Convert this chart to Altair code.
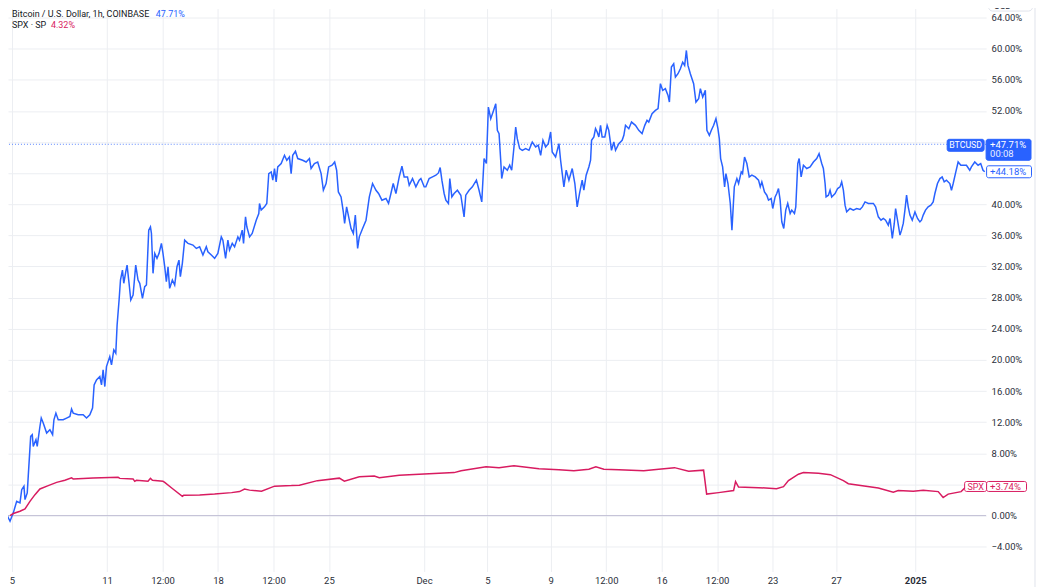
import altair as alt
import pandas as pd

# ---------------- data ----------------
# hours after 2024-11-05 00:00 and % change, BTCUSD (Coinbase, 1h)
btc_hours = [
    -8.0, -3.0, 2.0, 7.1, 12.1, 14.7, 18.1, 19.7, 23.1, 24.6,
    28.3, 30.7, 32.2, 36.3, 38.2, 42.3, 44.3, 47.3, 52.5, 57.4,
    61.5, 63.5, 66.5, 70.0, 77.5, 82.7, 87.7, 90.2, 92.7, 100.2,
    107.8, 112.9, 117.9, 122.0, 124.4, 128.0, 133.0, 135.6, 138.0, 140.6,
    143.1, 148.1, 150.7, 154.2, 157.2, 159.2, 162.2, 164.3, 167.3, 169.3,
    172.3, 174.3, 177.3, 179.9, 183.4, 187.4, 190.9, 193.5, 197.6, 201.0,
    203.6, 207.1, 209.7, 211.2, 213.6, 216.2, 219.6, 222.7, 226.3, 228.7,
    231.3, 233.8, 236.3, 238.8, 242.9, 246.4, 249.9, 252.9, 255.0, 258.0,
    261.5, 266.5, 274.1, 279.2, 284.2, 289.2, 294.3, 296.7, 301.9, 306.9,
    311.8, 317.0, 319.4, 323.5, 327.0, 329.5, 333.6, 337.1, 342.1, 344.6,
    348.7, 350.7, 353.7, 355.7, 359.8, 363.8, 369.9, 373.8, 374.9, 377.4,
    382.4, 385.9, 388.9, 392.6, 395.0, 397.6, 400.1, 402.5, 407.7, 412.7,
    416.2, 420.2, 422.8, 425.2, 429.3, 432.8, 440.3, 445.5, 450.5, 453.0,
    458.0, 463.0, 468.2, 471.6, 475.7, 479.6, 484.8, 488.7, 491.7, 494.3,
    498.4, 501.8, 503.8, 506.8, 509.9, 513.5, 517.0, 520.0, 523.5, 526.0,
    531.0, 536.2, 541.2, 546.1, 551.3, 555.2, 560.3, 566.4, 570.3, 573.9,
    577.4, 581.5, 586.5, 590.6, 594.0, 599.0, 601.6, 606.6, 611.7, 616.7,
    619.3, 624.3, 626.8, 631.8, 636.9, 642.0, 645.9, 648.5, 651.1, 654.5,
    657.1, 661.0, 663.1, 666.2, 669.6, 674.6, 679.8, 684.7, 687.3, 692.3,
    697.3, 703.4, 707.4, 711.5, 715.0, 718.5, 721.5, 725.1, 728.6, 732.7,
    735.1, 737.7, 740.2, 741.7, 745.2, 750.2, 753.8, 756.8, 760.3, 762.9,
    765.3, 768.9, 772.9, 778.0, 783.0, 788.0, 793.1, 797.1, 800.7, 804.2,
    808.2, 812.2, 815.8, 818.2, 823.3, 828.4, 830.9, 833.4, 835.9, 839.4,
    843.5, 848.5, 852.5, 856.0, 859.6, 863.6, 866.1, 869.6, 873.7, 876.3,
    877.8, 881.3, 883.8, 886.3, 888.8, 891.4, 893.8, 897.9, 901.4, 903.9,
    908.0, 911.5, 914.1, 919.1, 924.1, 926.7, 929.2, 934.2, 938.3, 944.3,
    949.3, 954.3, 958.4, 961.8, 964.4, 969.4, 974.5, 978.5, 982.1, 985.6,
    989.6, 993.6, 995.7, 998.7, 1002.2, 1004.8, 1008.7, 1012.3, 1015.8, 1018.8,
    1021.4, 1023.8, 1027.4, 1032.4, 1035.9, 1040.0, 1042.6, 1046.1, 1050.1, 1052.5,
    1056.2, 1059.2, 1062.7, 1066.2, 1069.2, 1071.3, 1073.3, 1076.3, 1079.3, 1081.3,
    1084.4, 1087.9, 1090.4, 1094.0, 1097.9, 1100.5, 1104.5, 1106.5, 1109.5, 1113.0,
    1116.6, 1120.6, 1125.7, 1130.7, 1133.3, 1135.7, 1139.7, 1143.2, 1145.8, 1149.8,
    1152.2, 1155.8, 1158.3, 1160.9, 1163.4, 1165.9, 1168.9, 1171.9, 1174.9, 1178.6,
    1181.0, 1185.1, 1187.1, 1190.1, 1192.2, 1195.2, 1198.7, 1203.7, 1208.8, 1213.8,
    1218.8, 1222.4, 1226.4, 1228.9, 1231.5, 1233.0, 1236.5, 1239.0, 1241.5, 1246.6,
    1250.5, 1254.1, 1256.6, 1259.2, 1261.7, 1264.2, 1269.3, 1274.3, 1279.3, 1284.4,
    1287.9, 1292.0, 1297.0, 1304.6, 1308.0, 1312.1, 1316.2, 1319.7, 1323.1, 1327.2,
    1329.8, 1333.3, 1336.3, 1338.3, 1341.2, 1344.9, 1347.3, 1349.9, 1352.4, 1354.9,
    1357.4, 1360.0, 1363.5, 1367.6, 1371.5, 1375.1, 1377.5, 1380.1, 1383.6, 1387.6,
    1391.7, 1395.2, 1397.8, 1401.7, 1405.4, 1408.8, 1411.9, 1415.3, 1420.4, 1422.9,
    1425.5, 1428.9, 1433.0, 1437.1, 1440.6, 1445.6, 1450.6, 1453.1, 1458.2, 1463.2,
    1467.2, 1470.7, 1473.3,
]
btc_pct = [
    0.13, -0.73, 0.35, 1.83, 1.63, 3.33, 3.76, 2.05, 2.91, 5.04,
    10.17, 10.39, 8.89, 9.75, 8.89, 11.45, 12.53, 11.89, 10.61, 11.03,
    10.39, 12.31, 13.17, 12.31, 12.31, 12.53, 12.74, 13.69, 13.17, 12.95,
    12.95, 12.53, 12.95, 13.81, 16.80, 17.44, 17.87, 16.80, 18.73, 16.58,
    19.15, 20.43, 19.37, 21.29, 20.87, 24.50, 27.70, 30.27, 31.55, 29.85,
    31.33, 32.19, 29.85, 27.70, 28.34, 32.19, 30.27, 29.85, 27.92, 29.41,
    29.63, 36.68, 37.11, 36.26, 31.13, 33.69, 33.05, 33.69, 34.98, 33.69,
    31.98, 30.05, 31.98, 29.20, 30.27, 29.63, 31.98, 32.83, 30.69, 32.41,
    35.40, 34.98, 34.76, 34.33, 34.54, 33.48, 34.54, 33.90, 33.48, 33.05,
    33.69, 35.82, 35.40, 33.05, 35.40, 34.12, 34.98, 34.54, 35.82, 35.40,
    36.68, 34.98, 38.39, 37.11, 35.82, 36.26, 37.96, 38.82, 40.11, 39.25,
    39.67, 40.11, 43.95, 44.16, 43.10, 44.60, 42.88, 44.80, 45.24, 46.30,
    45.66, 46.08, 43.95, 46.30, 46.81, 45.88, 45.66, 45.44, 45.88, 44.60,
    45.24, 45.44, 43.95, 41.81, 42.67, 44.80, 45.02, 45.44, 44.38, 41.59,
    40.95, 39.03, 37.54, 39.67, 38.39, 36.90, 36.26, 38.61, 34.33, 35.82,
    36.90, 37.96, 40.95, 42.67, 41.81, 41.39, 40.53, 40.75, 40.11, 41.39,
    42.67, 41.39, 43.52, 44.89, 43.52, 43.52, 42.45, 43.31, 42.24, 43.10,
    43.31, 42.24, 42.24, 43.31, 43.52, 43.74, 44.03, 44.72, 43.10, 41.39,
    40.53, 40.11, 43.31, 40.95, 41.39, 41.81, 41.17, 38.39, 41.17, 41.81,
    42.24, 43.10, 41.81, 40.31, 45.88, 45.24, 52.50, 51.01, 51.86, 52.93,
    49.51, 49.08, 45.66, 43.31, 44.80, 44.38, 45.02, 44.38, 47.37, 49.93,
    48.44, 47.16, 46.94, 47.16, 46.94, 48.01, 47.37, 47.59, 46.30, 48.22,
    47.37, 47.80, 49.29, 46.72, 46.08, 47.80, 45.66, 43.95, 42.24, 44.38,
    43.10, 44.60, 42.67, 39.67, 41.39, 43.10, 41.81, 43.74, 44.80, 45.66,
    48.22, 48.65, 49.72, 49.29, 48.65, 50.15, 48.65, 48.65, 50.15, 49.51,
    46.94, 48.01, 46.94, 47.80, 48.22, 48.87, 50.15, 49.72, 50.57, 50.15,
    49.51, 49.08, 50.15, 50.79, 50.57, 51.65, 52.07, 52.29, 55.50, 54.64,
    54.86, 54.00, 53.14, 57.63, 58.06, 56.35, 56.78, 57.42, 58.27, 57.85,
    59.77, 57.85, 56.78, 55.50, 53.14, 53.58, 54.86, 53.78, 54.64, 49.51,
    48.87, 49.51, 50.15, 51.01, 49.72, 48.44, 45.88, 44.80, 42.24, 43.95,
    42.67, 40.11, 36.68, 42.24, 43.31, 42.67, 44.16, 43.95, 46.08, 45.24,
    43.52, 43.74, 43.52, 43.10, 42.24, 42.88, 41.59, 41.17, 40.53, 40.75,
    39.46, 40.95, 41.39, 42.03, 40.53, 37.75, 36.90, 39.25, 40.11, 38.82,
    39.25, 38.82, 39.67, 45.24, 45.88, 43.52, 45.02, 44.60, 44.80, 45.44,
    45.88, 46.52, 45.24, 44.60, 42.67, 40.95, 41.17, 41.81, 40.95, 41.39,
    42.03, 42.24, 42.88, 41.81, 39.89, 39.03, 39.46, 39.25, 39.46, 39.33,
    39.67, 40.31, 40.11, 40.11, 39.67, 38.39, 37.96, 38.18, 37.96, 37.32,
    38.18, 35.62, 37.54, 39.46, 37.96, 36.04, 36.68, 37.54, 39.25, 41.17,
    39.67, 38.61, 37.96, 39.03, 38.18, 37.75, 37.96, 38.61, 39.25, 39.67,
    39.89, 40.31, 41.39, 42.67, 43.31, 43.52, 42.88, 43.10, 42.67, 41.81,
    42.67, 43.95, 45.44, 45.02, 45.02, 45.02, 44.38, 44.80, 45.44, 45.02,
    45.24, 44.38, 44.18,
]

# hours after 2024-11-05 00:00 and % change, SPX
spx_hours = [
    -3.0, 2.0, 12.1, 19.7, 27.2, 34.8, 42.3, 54.9, 67.6, 80.1,
    90.2, 92.7, 122.9, 160.7, 163.3, 183.4, 185.9, 188.5, 206.0, 209.7,
    212.7, 228.7, 231.3, 243.8, 258.0, 260.0, 284.2, 306.9, 332.6, 344.6,
    352.2, 359.8, 377.9, 397.6, 423.2, 435.3, 462.6, 495.8, 503.4, 526.0,
    548.7, 556.3, 586.5, 631.8, 669.6, 680.2, 718.0, 737.7, 760.3, 798.1,
    828.4, 851.0, 873.7, 884.3, 896.4, 919.1, 956.8, 979.5, 1003.4, 1024.9,
    1047.5, 1052.1, 1070.2, 1092.9, 1095.9, 1100.4, 1130.7, 1157.9, 1168.5, 1176.0,
    1191.1, 1198.7, 1221.4, 1239.5, 1259.2, 1266.7, 1312.1, 1334.8, 1342.3, 1365.0,
    1380.1, 1402.8, 1410.3, 1417.9, 1437.5, 1445.1, 1455.7, 1470.7,
]
spx_pct = [
    0.0, 0.26, 0.55, 0.86, 1.83, 2.69, 3.42, 3.85, 4.27, 4.53,
    4.84, 4.71, 4.84, 4.91, 4.78, 4.71, 4.40, 4.53, 4.40, 4.78,
    4.53, 4.40, 4.27, 3.42, 2.48, 2.60, 2.65, 2.76, 2.95, 3.08,
    3.40, 3.27, 3.14, 3.78, 3.85, 3.91, 4.49, 4.81, 4.42, 5.00,
    5.07, 4.87, 5.19, 5.39, 5.52, 5.77, 6.28, 6.16, 6.41, 6.03,
    5.90, 5.77, 5.96, 6.28, 5.96, 5.90, 5.77, 5.96, 6.16, 5.71,
    5.84, 2.76, 2.95, 3.21, 4.36, 3.66, 3.59, 3.46, 3.72, 4.49,
    5.32, 5.52, 5.45, 5.26, 4.49, 4.10, 3.53, 3.01, 3.21, 3.14,
    3.27, 3.08, 2.31, 2.76, 3.08, 3.72, 3.98, 3.74,
]

x_tick_times = [
    "2024-11-05 00:00", "2024-11-11 00:00", "2024-11-14 12:00", "2024-11-18 00:00",
    "2024-11-21 12:00", "2024-11-25 00:00", "2024-12-01 00:00", "2024-12-05 00:00",
    "2024-12-09 00:00", "2024-12-12 12:00", "2024-12-16 00:00", "2024-12-19 12:00",
    "2024-12-23 00:00", "2024-12-27 00:00", "2025-01-01 00:00",
]
x_tick_labels = ["5", "11", "12:00", "18", "12:00", "25", "Dec", "5",
                 "9", "12:00", "16", "12:00", "23", "27", "2025"]
y_tick_values = [-4, 0, 4, 8, 12, 16, 20, 24, 28, 32, 36, 40, 44, 48, 52, 56, 60, 64]
# price-scale labels hidden behind the last-value tags in the reference
y_tick_hidden = [4, 44, 48]

btc_title = "Bitcoin / U.S. Dollar, 1h, COINBASE"
btc_title_pct = "47.71%"
spx_title = "SPX · SP"
spx_title_pct = "4.32%"
btc_current = 47.71
btc_current_text = "+47.71%"
btc_countdown = "00:08"
btc_last = 44.18
btc_last_text = "+44.18%"
spx_last = 3.74
spx_last_text = "+3.74%"

# ---------------- styling ----------------
BLUE = "#2962ff"
PINK = "#d81b60"
TXT = "#2a2e39"
GRID = "#eceef2"
FONT = "Roboto"

t0 = pd.Timestamp("2024-11-05 00:00:00")


def stamp(h):
    return (t0 + pd.Timedelta(hours=float(h))).strftime("%Y-%m-%dT%H:%M:%S")


n_b = min(len(btc_hours), len(btc_pct))
btc_df = pd.DataFrame({"time": [stamp(h) for h in btc_hours[:n_b]], "pct": btc_pct[:n_b]})
n_s = min(len(spx_hours), len(spx_pct))
spx_df = pd.DataFrame({"time": [stamp(h) for h in spx_hours[:n_s]], "pct": spx_pct[:n_s]})


def dt(ts):
    t = pd.Timestamp(ts)
    return alt.DateTime(year=t.year, month=t.month, date=t.day, hours=t.hour, minutes=t.minute)


xscale = alt.Scale(domain=[dt("2024-11-04 17:57"), dt("2025-01-05 11:21")], nice=False)
yscale = alt.Scale(domain=[-7.182, 65.154], nice=False, zero=False)

label_expr = "''"
for ts, lab in reversed(list(zip(x_tick_times, x_tick_labels))):
    key = pd.Timestamp(ts).strftime("%Y-%m-%d %H:%M")
    label_expr = f"timeFormat(datum.value, '%Y-%m-%d %H:%M') == '{key}' ? '{lab}' : ({label_expr})"

hidden_list = "[" + ", ".join(str(v) for v in y_tick_hidden) + "]"
y_label_expr = (f"indexof({hidden_list}, datum.value) >= 0 ? '' : "
                "format(datum.value, '.2f') + '%'")

xaxis = alt.Axis(
    values=[dt(t) for t in x_tick_times], labelExpr=label_expr, title=None,
    labelPadding=12, labelBaseline="alphabetic",
    labelFontWeight={"condition": {"test": "month(datum.value) == 0", "value": "bold"},
                     "value": "normal"},
)
yaxis = alt.Axis(orient="right", values=y_tick_values, labelExpr=y_label_expr,
                 title=None, labelPadding=5)

X = alt.X("time:T", scale=xscale, axis=xaxis)
Y = alt.Y("pct:Q", scale=yscale, axis=yaxis)

btc_line = alt.Chart(btc_df).mark_line(color=BLUE, strokeWidth=1.5, clip=True).encode(x=X, y=Y)
spx_line = alt.Chart(spx_df).mark_line(color=PINK, strokeWidth=1.5, clip=True).encode(x=X, y=Y)


def hrule(value, **kw):
    return alt.Chart(pd.DataFrame({"pct": [value]})).mark_rule(**kw).encode(y=Y)


zero_rule = hrule(0, color="#c3c0d6", strokeWidth=1)
cur_rule = hrule(btc_current, color=BLUE, strokeWidth=1, strokeDash=[1, 2], opacity=0.75)


def box(value, x0, x1, top, bottom, fill, stroke):
    return alt.Chart(pd.DataFrame({"pct": [value]})).mark_rect(
        fill=fill, stroke=stroke, strokeWidth=1, cornerRadius=2,
        yOffset=top, y2Offset=bottom,
    ).encode(x=alt.value(x0), x2=alt.value(x1), y=Y, y2="pct:Q")


def tag(value, text, x, dy, color, align="left", size=9, opacity=1.0):
    return alt.Chart(pd.DataFrame({"pct": [value], "t": [text]})).mark_text(
        align=align, baseline="middle", dy=dy, color=color, fontSize=size,
        font=FONT, opacity=opacity,
    ).encode(x=alt.value(x), y=Y, text="t:N")


def header(text, x, y, color, size=9, baseline="middle"):
    return alt.Chart(pd.DataFrame({"t": [text]})).mark_text(
        align="left", baseline=baseline, color=color, fontSize=size, font=FONT,
    ).encode(x=alt.value(x), y=alt.value(y), text="t:N")


right_border = alt.Chart(pd.DataFrame({"a": [0]})).mark_rule(color="#e0e3eb").encode(
    x=alt.value(1029), y=alt.value(-10), y2=alt.value(600))
usd_box = alt.Chart(pd.DataFrame({"a": [0]})).mark_rect(
    fill="white", stroke="#e0e3eb", cornerRadius=4).encode(
    x=alt.value(982.5), x2=alt.value(1026.5), y=alt.value(-20), y2=alt.value(2.5))

layers = [
    zero_rule, cur_rule, btc_line, spx_line,
    box(btc_current, 941, 978, -5, 7, BLUE, BLUE),
    tag(btc_current, "BTCUSD", 959.5, 1, "white", align="center", size=8.8),
    box(btc_current, 980, 1025, -5, 16, BLUE, BLUE),
    tag(btc_current, btc_current_text, 984, 1, "white", size=9.5),
    tag(btc_current, btc_countdown, 984, 10, "white", size=9.5, opacity=0.9),
    box(btc_last, 980.5, 1025.5, -6, 6, "white", BLUE),
    tag(btc_last, btc_last_text, 984, 0.5, BLUE, size=9.5),
    box(spx_last, 958.5, 980.5, -5, 5, "white", PINK),
    tag(spx_last, "SPX", 969.5, 0.5, PINK, align="center", size=9),
    box(spx_last, 980.5, 1020.5, -5, 5, "white", PINK),
    tag(spx_last, spx_last_text, 984, 0.5, PINK, size=9.5),
    right_border, usd_box,
    header("USD", 988, 0, TXT, size=9, baseline="alphabetic"),
    header(btc_title, 4, 5, "#131722"),
    header(btc_title_pct, 148, 5, BLUE),
    header(spx_title, 4, 16, "#131722"),
    header(spx_title_pct, 43, 16, PINK),
]

chart = alt.layer(*layers).properties(
    width=980, height=564,
    autosize=alt.AutoSizeParams(type="none"),
    padding={"left": 0, "top": 0, "right": 50, "bottom": 15},
    background="white",
).configure_view(stroke=None).configure_axis(
    grid=True, gridColor=GRID, gridWidth=1, ticks=False, tickSize=0, domain=False,
    labelFont=FONT, labelFontSize=9.5, labelColor=TXT,
    labelFlush=False, labelOverlap=False,
)

chart.save("out.html", embed_options={"renderer": "svg", "actions": False})
